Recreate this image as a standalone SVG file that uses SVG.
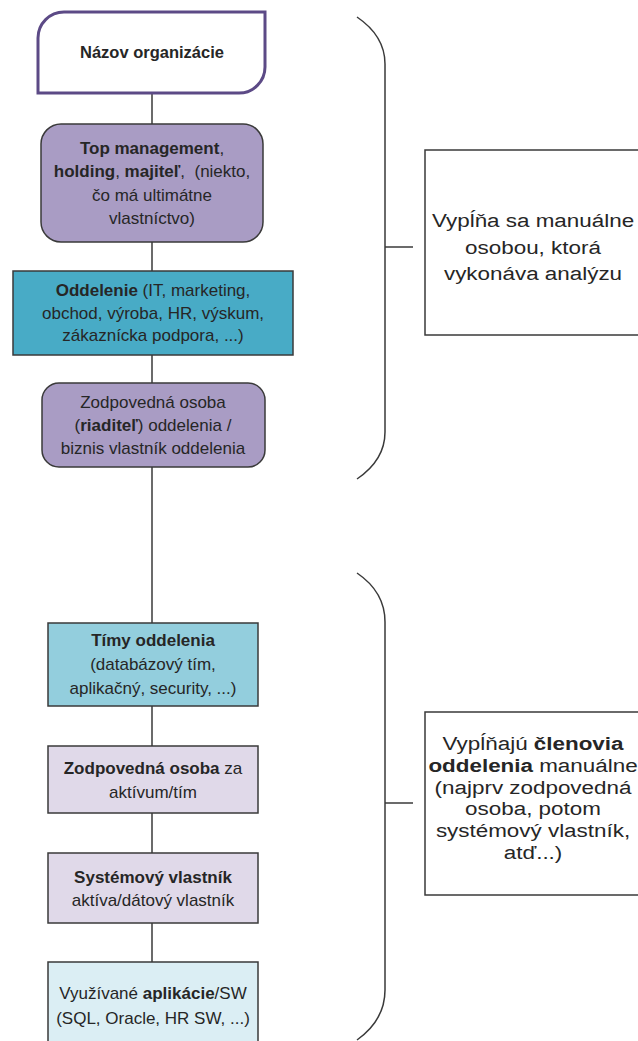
<svg xmlns="http://www.w3.org/2000/svg" width="638" height="1041" viewBox="0 0 638 1041">
<style>
text{font-family:"Liberation Sans",Arial,sans-serif;fill:#262626;text-anchor:middle}
.t17{font-size:17px}
.t16{font-size:16.5px}
.rt{font-size:19px}
.b{font-weight:bold}
.box{stroke:#3a3a3a;stroke-width:1.5}
.purple{fill:#a99cc4}
.teal{fill:#48abc6}
.lteal{fill:#93cedd}
.lav{fill:#e0d9e9}
.pale{fill:#dbeef4}
.note{fill:#fff;stroke:#3a3a3a;stroke-width:1.5}
.conn{stroke:#3a3a3a;stroke-width:1.5;fill:none}
</style>
<rect width="638" height="1041" fill="#fff"/>
<g id="connectors">
<line class="conn" x1="152" y1="93" x2="152" y2="124"/>
<line class="conn" x1="152" y1="242" x2="152" y2="271"/>
<line class="conn" x1="152" y1="355" x2="152" y2="383"/>
<line class="conn" x1="152" y1="467" x2="152" y2="623"/>
<line class="conn" x1="152" y1="706" x2="152" y2="746"/>
<line class="conn" x1="152" y1="813" x2="152" y2="853"/>
<line class="conn" x1="152" y1="923" x2="152" y2="962"/>
<path class="conn" d="M357 17 Q385 36 385 64 L385 432 Q385 460 357 479"/>
<line class="conn" x1="385" y1="247" x2="413" y2="247"/>
<path class="conn" d="M357 573 Q385 592 385 622 L385 990 Q385 1020 357 1040"/>
<line class="conn" x1="385" y1="803" x2="413" y2="803"/>
</g>
<g id="node-nazov">
<path d="M64 12 L265 12 L265 67 A26 26 0 0 1 239 93 L38 93 L38 38 A26 26 0 0 1 64 12 Z" fill="#fff" stroke="#5c4a86" stroke-width="3"/>
<text class="t16 b" x="152" y="58">Názov organizácie</text>
</g>
<g id="node-top">
<rect class="box purple" x="41" y="124" width="222" height="118" rx="20"/>
<text class="t17" x="152" y="154"><tspan class="b">Top management</tspan>,</text>
<text class="t17" x="152" y="177"><tspan class="b">holding</tspan>, <tspan class="b">majiteľ</tspan>,&#160; (niekto,</text>
<text class="t17" x="152" y="201">čo má ultimátne</text>
<text class="t17" x="152" y="224">vlastníctvo)</text>
</g>
<g id="node-oddelenie">
<rect class="box teal" x="13" y="271" width="280" height="84"/>
<text class="t17" x="153" y="296"><tspan class="b">Oddelenie</tspan> (IT, marketing,</text>
<text class="t17" x="153" y="319">obchod, výroba, HR, výskum,</text>
<text class="t17" x="153" y="341">zákaznícka podpora, ...)</text>
</g>
<g id="node-riaditel">
<rect class="box purple" x="42" y="383" width="223" height="84" rx="17"/>
<text class="t17" x="153" y="408">Zodpovedná osoba</text>
<text class="t17" x="153" y="431">(<tspan class="b">riaditeľ</tspan>) oddelenia /</text>
<text class="t17" x="153" y="454">biznis vlastník oddelenia</text>
</g>
<g id="node-timy">
<rect class="box lteal" x="48" y="623" width="210" height="83"/>
<text class="t17 b" x="153" y="646">Tímy oddelenia</text>
<text class="t17" x="153" y="670">(databázový tím,</text>
<text class="t17" x="153" y="694">aplikačný, security, ...)</text>
</g>
<g id="node-zodp-za">
<rect class="box lav" x="48" y="746" width="210" height="67"/>
<text class="t17" x="153" y="774"><tspan class="b">Zodpovedná osoba</tspan> za</text>
<text class="t17" x="153" y="798">aktívum/tím</text>
</g>
<g id="node-system">
<rect class="box lav" x="48" y="853" width="210" height="70"/>
<text class="t17" x="153" y="883"><tspan class="b">Systémový vlastník</tspan></text>
<text class="t17" x="153" y="906">aktíva/dátový vlastník</text>
</g>
<g id="node-aplikacie">
<rect class="box pale" x="48" y="962" width="210" height="90"/>
<text class="t17" x="153" y="999">Využívané <tspan class="b">aplikácie</tspan>/SW</text>
<text class="t17" x="153" y="1024">(SQL, Oracle, HR SW, ...)</text>
</g>
<g id="note-analyza">
<rect class="note" x="425" y="150" width="230" height="185"/>
<g transform="translate(533 0) scale(1.18 1)">
<text class="rt" x="0" y="227">Vypĺňa sa manuálne</text>
<text class="rt" x="0" y="254">osobou, ktorá</text>
<text class="rt" x="0" y="280">vykonáva analýzu</text>
</g>
</g>
<g id="note-clenovia">
<rect class="note" x="425" y="712" width="230" height="183"/>
<g transform="translate(533 0) scale(1.18 1)">
<text class="rt" x="0" y="750">Vypĺňajú <tspan class="b">členovia</tspan></text>
<text class="rt" x="0" y="772"><tspan class="b">oddelenia</tspan> manuálne</text>
<text class="rt" x="0" y="794">(najprv zodpovedná</text>
<text class="rt" x="0" y="815">osoba, potom</text>
<text class="rt" x="0" y="837">systémový vlastník,</text>
<text class="rt" x="0" y="859">atď...)</text>
</g>
</g>
</svg>
